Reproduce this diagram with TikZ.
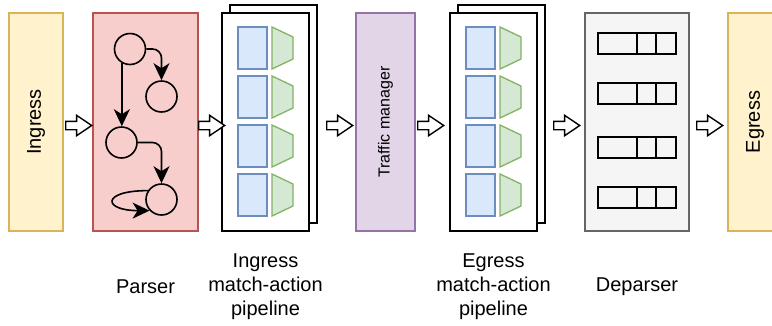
\documentclass[tikz,border=0pt]{standalone}
\usepackage{fontspec}
\setmainfont{Liberation Sans}
\usetikzlibrary{positioning,shapes.arrows,arrows.meta}
\definecolor{ingfill}{HTML}{FFF2CC}
\definecolor{ingdraw}{HTML}{D6B656}
\definecolor{parfill}{HTML}{F8CECC}
\definecolor{pardraw}{HTML}{B85450}
\definecolor{tmfill}{HTML}{E1D5E7}
\definecolor{tmdraw}{HTML}{9673A6}
\definecolor{depfill}{HTML}{F5F5F5}
\definecolor{depdraw}{HTML}{666666}
\definecolor{tblfill}{HTML}{DAE8FC}
\definecolor{tbldraw}{HTML}{6C8EBF}
\definecolor{actfill}{HTML}{D5E8D4}
\definecolor{actdraw}{HTML}{82B366}

\begin{document}
\begin{tikzpicture}[x=1pt, y=1pt]
 	\tikzstyle{stage}=[rectangle, line width=1.5pt, minimum height=218pt, inner sep=0pt, outer sep=0pt]
 	\tikzstyle{stack}=[stage, draw=black, fill=white, minimum width=87pt]
 	\tikzstyle{state}=[circle, line width=1.6pt, draw=black, minimum size=31pt, inner sep=0pt]
 	\tikzstyle{connect}=[-{Stealth[length=17pt, width=16pt, inset=5pt]}, line width=1.6pt]
 	\tikzstyle{flow}=[single arrow, draw=black, fill=white, line width=1.4pt, minimum height=26pt, inner sep=3.5pt, single arrow head extend=6pt, single arrow tip angle=68, yshift=-3.5pt]
 	\tikzstyle{tbl}=[rectangle, draw=tbldraw, fill=tblfill, line width=1.3pt, minimum width=29pt, minimum height=42pt, inner sep=0pt, outer sep=0pt, node distance=7pt]
 	\tikzstyle{act}=[draw=actdraw, fill=actfill, line width=1.3pt]
 	\tikzstyle{field}=[rectangle, draw=black, line width=1.6pt, minimum width=78pt, minimum height=21pt, inner sep=0pt, outer sep=0pt]
 	\tikzstyle{caption}=[align=center, font=\fontsize{20pt}{24pt}\selectfont]
 	\useasboundingbox (0,0) rectangle (772,-325);
 	% stages
 	\node[stage, minimum width=54pt, draw=ingdraw, fill=ingfill] (ingress) at (36,-122) [label={[rotate=90, caption]center:Ingress}] {};
 	\node[stage, minimum width=105pt, draw=pardraw, fill=parfill] (parser) [right=30pt of ingress] {};
 	\node[stack] (ipipe2) [right=32pt of parser, yshift=8pt] {};
 	\node[stack] (ipipe) at ([shift={(-8pt,-8pt)}]ipipe2.center) {};
 	\node[stage, minimum width=59pt, draw=tmdraw, fill=tmfill] (tm) [right=47pt of ipipe, label={[rotate=90, font=\fontsize{16pt}{19pt}\selectfont]center:Traffic manager}] {};
 	\node[stack] (epipe2) [right=43pt of tm, yshift=8pt] {};
 	\node[stack] (epipe) at ([shift={(-8pt,-8pt)}]epipe2.center) {};
 	\node[stage, minimum width=104pt, draw=depdraw, fill=depfill] (dep) [right=48pt of epipe] {};
 	\node[stage, minimum width=54pt, draw=ingdraw, fill=ingfill] (egress) [right=39pt of dep, label={[rotate=90, caption]center:Egress}] {};
 	% flow between stages
 	\node[flow] (f1) [right=2pt of ingress] {};
 	\node[flow] (f2) [right=0pt of parser] {};
 	\node[flow] (f3) [right=17pt of ipipe] {};
 	\node[flow] (f4) [right=2pt of tm] {};
 	\node[flow] (f5) [right=16pt of epipe] {};
 	\node[flow] (f6) [right=7pt of dep] {};
 	% parser states
 	\node[state] (s1) at (130,-49) {};
 	\node[state] (s2) at (161.5,-96.5) {};
 	\node[state] (s3) at (121.5,-142.5) {};
 	\node[state] (s4) at (161.5,-199.5) {};
 	\path (s1.240) edge [connect] (s1.240 |- s3.north)
 	(s4.147) edge [connect, out=180, in=180, looseness=6] (s4.223);
 	\draw[connect, rounded corners=9pt] (s1.east) -| (s2.north);
 	\draw[connect, rounded corners=9pt] (s3.east) -| (s4.north);
 	% ingress match-action
 	\node[tbl] (it1) [below right=14pt and 16pt of ipipe.north west] {};
 	\node[tbl] (it2) [below=of it1] {};
 	\node[tbl] (it3) [below=of it2] {};
 	\node[tbl] (it4) [below=of it3] {};
 	\draw[act] ([xshift=5pt]it1.north east) -- ++(21pt,-10pt) -- ++(0,-22pt) -- ([xshift=5pt]it1.south east) -- cycle;
 	\draw[act] ([xshift=5pt]it2.north east) -- ++(21pt,-10pt) -- ++(0,-22pt) -- ([xshift=5pt]it2.south east) -- cycle;
 	\draw[act] ([xshift=5pt]it3.north east) -- ++(21pt,-10pt) -- ++(0,-22pt) -- ([xshift=5pt]it3.south east) -- cycle;
 	\draw[act] ([xshift=5pt]it4.north east) -- ++(21pt,-10pt) -- ++(0,-22pt) -- ([xshift=5pt]it4.south east) -- cycle;
 	% egress match-action
 	\node[tbl] (et1) [below right=14pt and 16pt of epipe.north west] {};
 	\node[tbl] (et2) [below=of et1] {};
 	\node[tbl] (et3) [below=of et2] {};
 	\node[tbl] (et4) [below=of et3] {};
 	\draw[act] ([xshift=5pt]et1.north east) -- ++(21pt,-10pt) -- ++(0,-22pt) -- ([xshift=5pt]et1.south east) -- cycle;
 	\draw[act] ([xshift=5pt]et2.north east) -- ++(21pt,-10pt) -- ++(0,-22pt) -- ([xshift=5pt]et2.south east) -- cycle;
 	\draw[act] ([xshift=5pt]et3.north east) -- ++(21pt,-10pt) -- ++(0,-22pt) -- ([xshift=5pt]et3.south east) -- cycle;
 	\draw[act] ([xshift=5pt]et4.north east) -- ++(21pt,-10pt) -- ++(0,-22pt) -- ([xshift=5pt]et4.south east) -- cycle;
 	% deparser headers
 	\node[field] (r1) [below right=20pt and 13pt of dep.north west] {};
 	\node[field] (r2) [below=29pt of r1] {};
 	\node[field] (r3) [below=33pt of r2] {};
 	\node[field] (r4) [below=29pt of r3] {};
 	\draw[line width=1.6pt] ([xshift=39pt]r1.north west) -- ([xshift=39pt]r1.south west) ([xshift=58pt]r1.north west) -- ([xshift=58pt]r1.south west);
 	\draw[line width=1.6pt] ([xshift=39pt]r2.north west) -- ([xshift=39pt]r2.south west) ([xshift=58pt]r2.north west) -- ([xshift=58pt]r2.south west);
 	\draw[line width=1.6pt] ([xshift=39pt]r3.north west) -- ([xshift=39pt]r3.south west) ([xshift=58pt]r3.north west) -- ([xshift=58pt]r3.south west);
 	\draw[line width=1.6pt] ([xshift=39pt]r4.north west) -- ([xshift=39pt]r4.south west) ([xshift=58pt]r4.north west) -- ([xshift=58pt]r4.south west);
 	% captions
 	\node[caption] (lparser) at ([yshift=-56pt]parser.south) {Parser};
 	\node[caption] (lipipe) at ([yshift=-56pt]ipipe.south) {Ingress\\match-action\\pipeline};
 	\node[caption] (lepipe) at ([yshift=-56pt]epipe.south) {Egress\\match-action\\pipeline};
 	\node[caption] (ldep) at ([yshift=-56pt]dep.south) {Deparser};
\end{tikzpicture}
\end{document}
